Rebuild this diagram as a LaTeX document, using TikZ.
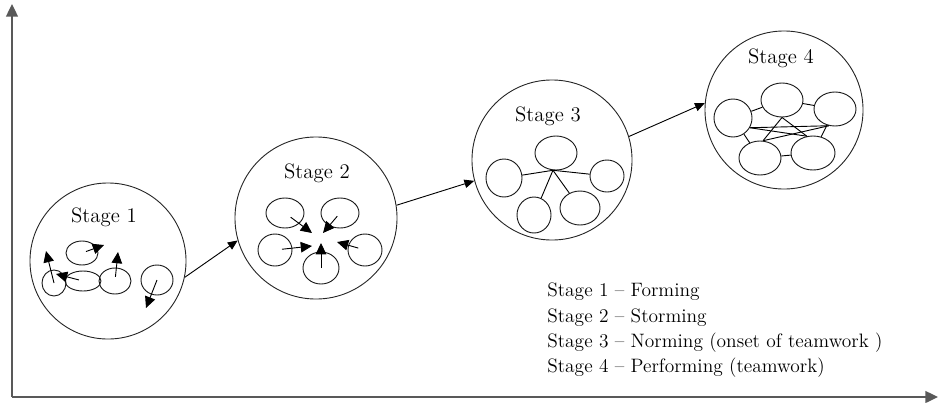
\documentclass[tikz,border=0pt]{standalone}
\usepackage{tikz}
\usetikzlibrary{positioning, arrows.meta, shapes.geometric}

\tikzset{
    stage/.style={circle, draw=black!85, line width=0.65pt, minimum size=#1*0.05cm, inner sep=0pt},
    member/.style 2 args={ellipse, draw=black!90, line width=0.65pt, minimum width=#1*0.05cm, minimum height=#2*0.05cm, inner sep=0pt},
    pull/.style={-{Triangle[length=8pt,width=7.5pt]}, line width=0.65pt},
    advance/.style={-{Triangle[length=7pt,width=6pt]}, line width=0.65pt},
    link/.style={line width=0.65pt},
    axis/.style={-{Triangle[length=9pt,width=8.5pt]}, line width=1pt, black!65},
    title/.style={font=\fontsize{14.8}{17}\selectfont},
}

\begin{document}
\begin{tikzpicture}[x=0.025cm, y=-0.025cm, font=\fontsize{13.8}{18}\selectfont]
    \useasboundingbox (0,0) rectangle (938,402);

    % Draw the axes
    \coordinate (origin) at (12,397);
    \coordinate (ytop) at (12,4);
    \coordinate (xend) at (938,397);
    \draw[axis] (origin) -- (ytop);
    \draw[axis] (origin) -- (xend);

    % The four stages
    \node[stage=78] (s1) at (108,261) {};
    \node[stage=81] (s2) at (316,218) {};
    \node[stage=80] (s3) at (552,160) {};
    \node[stage=79] (s4) at (784,110) {};

    \node[title] (t1) at (104,217) {Stage 1};
    \node[title] (t2) at (317,173) {Stage 2};
    \node[title] (t3) at (548,116) {Stage 3};
    \node[title] (t4) at (781,58) {Stage 4};

    \draw[advance] (s1.-12) -- (s2.196);
    \draw[advance] (s2.9) -- (s3.195);
    \draw[advance] (s3.17) -- (s4.175);

    % Stage 1: members moving apart
    \node[member={16}{12}] (a1) at (82,253) {};
    \node[member={12}{13}] (a2) at (54,283) {};
    \node[member={18}{10}] (a3) at (83,281) {};
    \node[member={16}{13}] (a4) at (115,281) {};
    \node[member={16}{15}] (a5) at (157,280) {};
    \coordinate (a1t) at (104,245);
    \coordinate (a2t) at (46,251);
    \coordinate (a3t) at (56,274);
    \coordinate (a4t) at (118,252);
    \coordinate (a5t) at (146,308);
    \draw[pull, shorten <=3pt] (a1.center) -- (a1t);
    \draw[pull] (a2.center) -- (a2t);
    \draw[pull, shorten <=3pt] (a3.center) -- (a3t);
    \draw[pull, shorten <=3pt] (a4.center) -- (a4t);
    \draw[pull] (a5.center) -- (a5t);

    % Stage 2: members pulling to the middle
    \node[member={19}{15}] (b1) at (285,213) {};
    \node[member={19}{15}] (b2) at (340,213) {};
    \node[member={17}{16}] (b3) at (275,250) {};
    \node[member={18}{16}] (b4) at (321,268) {};
    \node[member={17}{16}] (b5) at (365,250) {};
    \coordinate (b1t) at (312,233);
    \coordinate (b2t) at (323,233);
    \coordinate (b3t) at (312,246);
    \coordinate (b4t) at (321,243);
    \coordinate (b5t) at (337,242);
    \draw[pull, shorten <=5pt] (b1.center) -- (b1t);
    \draw[pull, shorten <=3pt] (b2.center) -- (b2t);
    \draw[pull, shorten <=5pt] (b3.center) -- (b3t);
    \draw[pull] (b4.center) -- (b4t);
    \draw[pull, shorten <=5pt] (b5.center) -- (b5t);

    % Stage 3: a star round one member
    \node[member={21}{17}] (c1) at (556,153) {};
    \node[member={18}{19}] (c2) at (504,178) {};
    \node[member={17}{16}] (c3) at (607,176) {};
    \node[member={17}{18}] (c4) at (534,215) {};
    \node[member={20}{17}] (c5) at (580,208) {};
    \draw[link] (c1.260) -- (c2);
    \draw[link] (c1.260) -- (c3);
    \draw[link] (c1.260) -- (c4);
    \draw[link] (c1.260) -- (c5);

    % Stage 4: everyone linked
    \node[member={21}{17}] (d1) at (782,100) {};
    \node[member={19}{19}] (d2) at (733,118) {};
    \node[member={21}{17}] (d3) at (835,109) {};
    \node[member={21}{17}] (d4) at (760,158) {};
    \node[member={22}{17}] (d5) at (813,153) {};
    \draw[link] (d1) -- (d2);
    \draw[link] (d1) -- (d3);
    \draw[link] (d2) -- (d4);
    \draw[link] (d3) -- (d5);
    \draw[link] (d4) -- (d5);
    \draw[link] (d2.-30) -- (d3.250);
    \draw[link] (d2.-30) -- (d5.110);
    \draw[link] (d3.250) -- (d4.80);
    \draw[link] (d1.270) -- (d4.80);
    \draw[link] (d1.270) -- (d5.110);

    % Legend
    \node[anchor=north west, align=left, inner sep=0pt] (legend) at (547,283)
        {Stage 1 -- Forming\\
         Stage 2 -- Storming\\
         Stage 3 -- Norming (onset of teamwork )\\
         Stage 4 -- Performing (teamwork)};
\end{tikzpicture}
\end{document}
